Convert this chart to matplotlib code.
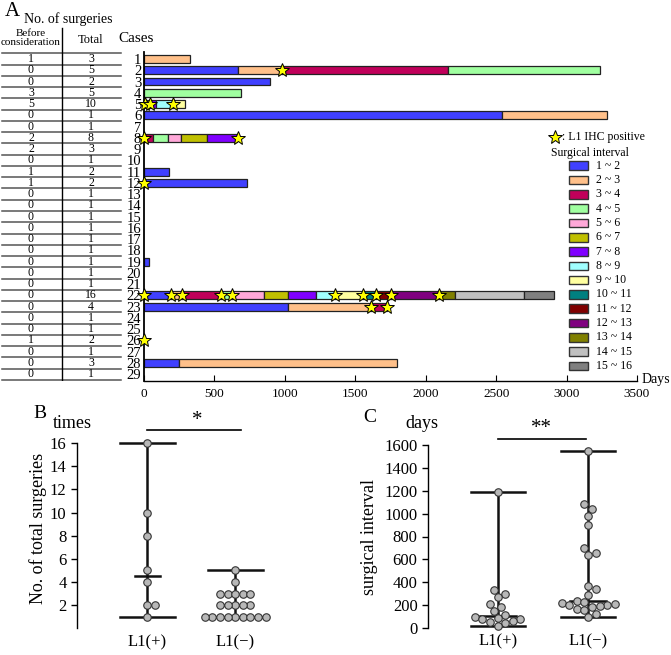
import numpy as np
import matplotlib
matplotlib.use('Agg')
import matplotlib.pyplot as plt
from matplotlib.patches import Rectangle
from matplotlib.lines import Line2D

plt.rcParams['font.family'] = ['Liberation Serif', 'DejaVu Serif']

# ---------------- data: panel A ----------------
cases = list(range(1, 30))
before_consideration = [1, 0, 0, 3, 5, 0, 0, 2, 2, 0, 1, 1, 0, 0, 0, 0, 0, 0, 0, 0, 0, 0, 0, 0, 0, 1, 0, 0, 0]
total_surgeries = [3, 5, 2, 5, 10, 1, 1, 8, 3, 1, 2, 2, 1, 1, 1, 1, 1, 1, 1, 1, 1, 16, 4, 1, 1, 2, 1, 3, 1]

interval_labels = ['1 ~ 2', '2 ~ 3', '3 ~ 4', '4 ~ 5', '5 ~ 6', '6 ~ 7', '7 ~ 8', '8 ~ 9',
                   '9 ~ 10', '10 ~ 11', '11 ~ 12', '12 ~ 13', '13 ~ 14', '14 ~ 15', '15 ~ 16']
interval_colors = ['#4040ff', '#ffc08a', '#c0005a', '#a0ffa0', '#ffa8d8', '#c0c000', '#8000ff',
                   '#a0ffff', '#ffffa0', '#008080', '#800000', '#800080', '#808000', '#c0c0c0', '#808080']

# case -> list of (interval index, day at end of interval)
segments = {
    1: [(1, 330)],
    2: [(0, 666), (1, 981), (2, 2159), (3, 3236)],
    3: [(0, 898)],
    4: [(3, 688)],
    5: [(4, 20), (5, 43), (6, 85), (7, 206), (8, 291)],
    6: [(0, 2539), (1, 3286)],
    8: [(1, 10), (2, 66), (3, 173), (4, 265), (5, 450), (6, 659)],
    11: [(0, 180)],
    12: [(0, 730)],
    19: [(0, 36)],
    22: [(0, 192), (1, 270), (2, 548), (3, 628), (4, 849), (5, 1019), (6, 1221), (7, 1358),
         (8, 1553), (9, 1648), (10, 1755), (11, 2093), (12, 2207), (13, 2698), (14, 2911)],
    23: [(0, 1019), (1, 1615), (2, 1726)],
    28: [(0, 247), (1, 1797)],
}
# L1 IHC positive surgeries (day)
l1_positive = {
    2: [981], 5: [5, 43, 206], 8: [0, 670], 12: [0],
    22: [0, 192, 270, 548, 628, 1358, 1553, 1648, 1755, 2093],
    23: [1615, 1726], 26: [0],
}

# ---------------- data: panels B and C ----------------
groups = ['L1(+)', 'L1(\u2212)']
surgeries_pos = [16, 10, 8, 5, 4, 2, 2, 1]
surgeries_neg = [5, 4, 3, 3, 3, 3, 3, 2, 2, 2, 2, 2, 1, 1, 1, 1, 1, 1, 1, 1, 1]
interval_pos = [1190, 330, 300, 270, 210, 180, 150, 110, 100, 90, 80, 75, 60, 50, 40, 20]
interval_neg = [1550, 1080, 1040, 980, 900, 700, 660, 640, 370, 340, 290, 240, 230, 220,
                210, 200, 200, 190, 180, 170, 160, 120, 100]

W, H = 671, 655
fig = plt.figure(figsize=(W / 100, H / 100), dpi=100)


def fx(px):
    return px / W


def fy(py):
    return 1 - py / H


# ---------------- panel A: bars ----------------
row_px0, row_step = 59, 11.25  # pixel row of case 1 and spacing
ax = fig.add_axes([fx(144), fy(381), fx(637) - fx(144), fy(52.25) - fy(381)])
for case, segs in segments.items():
    left = 0
    for k, end in segs:
        ax.barh(case, end - left, left=left, height=0.7, color=interval_colors[k],
                edgecolor='#222222', linewidth=0.9, zorder=2)
        left = end
for case, days in l1_positive.items():
    ax.plot(days, [case] * len(days), linestyle='none', marker='*', ms=10,
            mfc='#ffff00', mec='black', mew=0.7, zorder=5, clip_on=False)

ax.set_xlim(0, 3500)
ax.set_ylim(29.6, 0.4)
ax.set_yticks(cases)
ax.set_yticklabels([str(c) for c in cases], fontsize=10.5)
ax.tick_params(axis='y', length=0, pad=2)
ax.set_xticks(range(0, 3501, 500))
ax.tick_params(axis='x', direction='in', length=4, labelsize=9.5, pad=5)
for s in ['top', 'right']:
    ax.spines[s].set_visible(False)
ax.spines['left'].set_linewidth(1.3)
ax.spines['bottom'].set_linewidth(1.0)
ax.text(1.01, 0.005, 'Days', transform=ax.transAxes, fontsize=10, ha='left', va='center')

# ---------------- panel A: table ----------------
axt = fig.add_axes([0, fy(381), fx(125), fy(0) - fy(381)])
axt.set_xlim(0, 125)
axt.set_ylim(29.6, 1 - row_px0 / row_step)
axt.axis('off')
for case, b, t in zip(cases, before_consideration, total_surgeries):
    axt.text(31, case, str(b), ha='center', va='center', fontsize=8.5)
    axt.text(91, case, str(t), ha='center', va='center', fontsize=8.5)
for edge in np.arange(0.5, 30, 1.0):
    axt.plot([2, 121], [edge, edge], color='#555555', lw=1.1)
axt.plot([62, 62], [1 + (28 - row_px0) / row_step, 29.5], color='black', lw=1.0)

fig.text(fx(12), fy(11), 'A', fontsize=15, ha='center', va='center')
fig.text(fx(68), fy(19), 'No. of surgeries', fontsize=10, ha='center', va='center')
fig.text(fx(31), fy(38), 'Before\nconsideration', fontsize=8, ha='center', va='center',
         linespacing=1.0)
fig.text(fx(91), fy(40), 'Total', fontsize=9, ha='center', va='center')
fig.text(fx(136), fy(38), 'Cases', fontsize=11, ha='center', va='center')

# ---------------- panel A: legend ----------------
fig.add_artist(Line2D([fx(555)], [fy(137)], transform=fig.transFigure, marker='*', ms=10,
                      mfc='#ffff00', mec='black', mew=0.7, linestyle='none'))
fig.text(fx(562), fy(137), ': L1 IHC positive', fontsize=8.5, ha='left', va='center')
fig.text(fx(551), fy(153), 'Surgical interval', fontsize=8.5, ha='left', va='center')
for i, (lab, col) in enumerate(zip(interval_labels, interval_colors)):
    yc = 165.7 + i * 14.3
    fig.add_artist(Rectangle((fx(569.3), fy(yc + 4.3)), fx(18.4), 8.6 / H,
                             transform=fig.transFigure, facecolor=col,
                             edgecolor='#333333', linewidth=1.0))
    fig.text(fx(596), fy(yc), lab, fontsize=8.5, ha='left', va='center')


# ---------------- panels B and C ----------------
def swarm(axis, center, values, dot_px):
    pts = axis.transData.transform(np.column_stack([np.full(len(values), center), values]))
    cx = pts[0, 0]
    ys = pts[:, 1]
    xs = np.zeros(len(values))
    placed = []
    cands = [0.0]
    for j in range(1, 30):
        cands += [j * dot_px * 0.5, -j * dot_px * 0.5]
    for i in np.argsort(ys):
        for off in cands:
            ok = all((off - px) ** 2 + (ys[i] - py) ** 2 >= (dot_px * 0.98) ** 2 for px, py in placed)
            if ok:
                break
        placed.append((off, ys[i]))
        xs[i] = cx + off
    back = axis.transData.inverted().transform(np.column_stack([xs, ys]))
    return back[:, 0]


def dot_panel(axis, data, range_hw, med_hw):
    for pos, vals in zip([1, 2], data):
        vals = np.array(vals, dtype=float)
        axis.plot([pos, pos], [vals.min(), vals.max()], color='#111111', lw=1.8, zorder=2,
                  clip_on=False)
        for v, hw in [(vals.min(), range_hw), (vals.max(), range_hw), (np.median(vals), med_hw)]:
            axis.plot([pos - hw, pos + hw], [v, v], color='#111111', lw=1.8, zorder=2,
                      clip_on=False)
        xs = swarm(axis, pos, vals, 7.6)
        axis.plot(xs, vals, linestyle='none', marker='o', ms=5.4, mfc='#b8b8b8', mec='#333333',
                  mew=0.8, zorder=4, clip_on=False)
    axis.set_xticks([1, 2])
    axis.set_xticklabels(groups, fontsize=12)
    axis.tick_params(axis='x', length=0, pad=4)
    axis.tick_params(axis='y', direction='out', length=4, labelsize=12, width=1)
    for s in ['top', 'right', 'bottom']:
        axis.spines[s].set_visible(False)
    axis.spines['left'].set_linewidth(1.0)


axB = fig.add_axes([fx(77), fy(628.4), fx(211), (628.4 - 443) / H])
axB.set_xlim(0.2, 2.6)
axB.set_ylim(0, 16)
axB.set_yticks(range(2, 17, 2))
dot_panel(axB, [surgeries_pos, surgeries_neg], 0.31, 0.14)
axB.plot([1.0, 2.07], [17.1, 17.1], color='black', lw=1.2, clip_on=False)
axB.text(1.565, 17.15, '*', ha='center', va='bottom', fontsize=15)
fig.text(fx(38), fy(528), 'No. of total surgeries', rotation=90, fontsize=13,
         ha='center', va='center')
fig.text(fx(72), fy(424), 'times', fontsize=13, ha='center', va='center')
fig.text(fx(40), fy(413), 'B', fontsize=14, ha='center', va='center')

axC = fig.add_axes([fx(428), fy(628), fx(228), (628 - 445) / H])
axC.set_xlim(0.23, 2.75)
axC.set_ylim(0, 1600)
axC.set_yticks(range(0, 1601, 200))
dot_panel(axC, [interval_pos, interval_neg], 0.3, 0.2)
axC.plot([1.0, 1.98], [1655, 1655], color='black', lw=1.2, clip_on=False)
axC.text(1.487, 1660, '**', ha='center', va='bottom', fontsize=15)
fig.text(fx(369), fy(537), 'surgical interval', rotation=90, fontsize=13,
         ha='center', va='center')
fig.text(fx(422), fy(423), 'days', fontsize=13, ha='center', va='center')
fig.text(fx(370), fy(417), 'C', fontsize=14, ha='center', va='center')

fig.savefig('out.png', dpi=100)
